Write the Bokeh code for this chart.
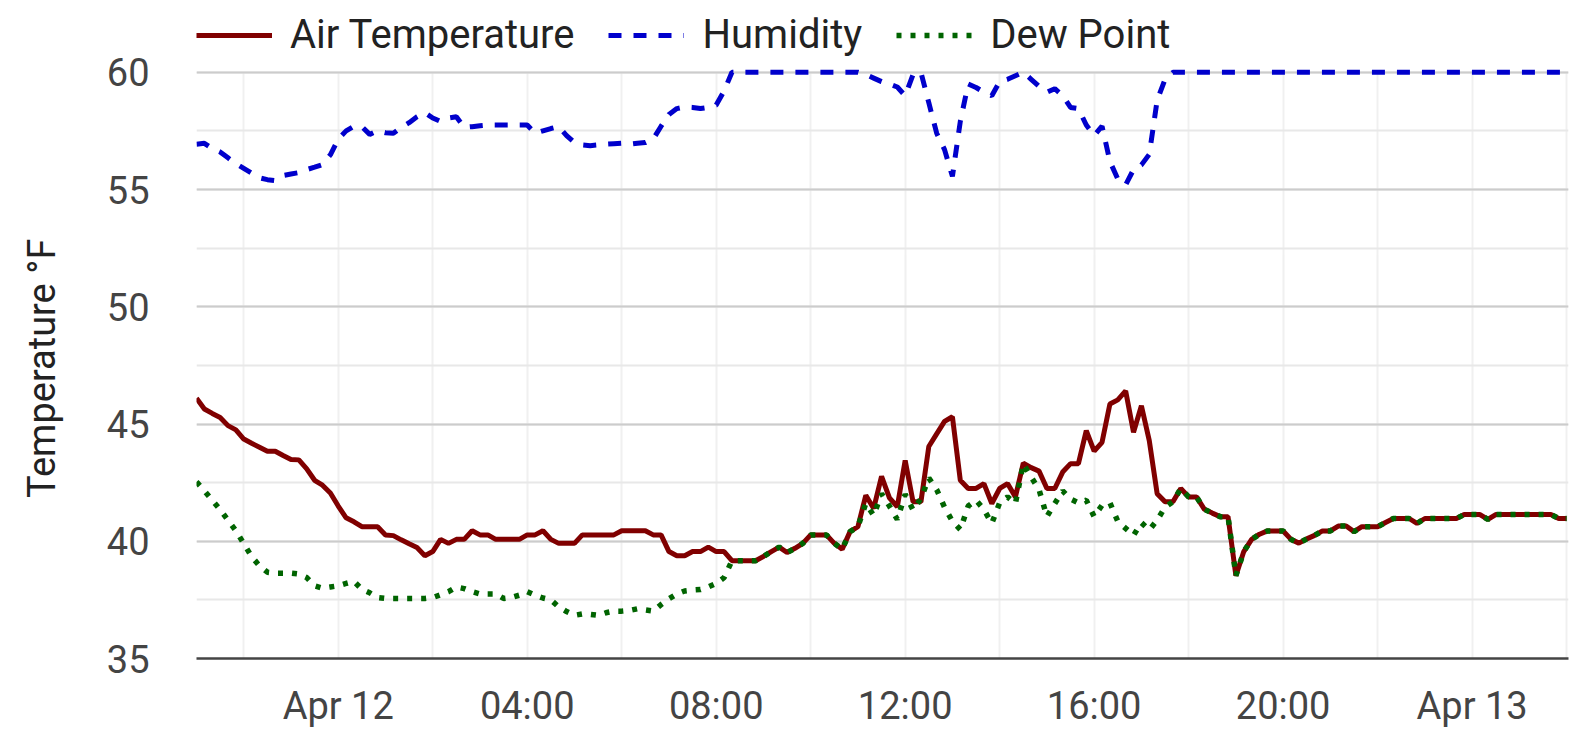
import pandas as pd
from bokeh.plotting import figure
from bokeh.models import (ColumnDataSource, Range1d, FixedTicker, SingleIntervalTicker,
                          Legend, LegendItem, DatetimeTickFormatter)
from bokeh.embed import file_html
from bokeh.resources import INLINE

# ---------------- data (10-minute readings from Apr 11 21:00) ----------------
start_time = "2024-04-11 21:00"
step = "10min"

air_temperature = [
    46.1, 45.64, 45.45, 45.28, 44.93, 44.75, 44.36, 44.18, 44.01, 43.84,
    43.84, 43.66, 43.49, 43.47, 43.09, 42.6, 42.39, 42.06, 41.5, 41.0,
    40.83, 40.62, 40.62, 40.62, 40.27, 40.24, 40.06, 39.89, 39.73, 39.38,
    39.56, 40.08, 39.91, 40.08, 40.08, 40.45, 40.27, 40.27, 40.08, 40.08,
    40.08, 40.08, 40.27, 40.27, 40.45, 40.08, 39.91, 39.91, 39.91, 40.27,
    40.27, 40.27, 40.27, 40.27, 40.45, 40.45, 40.45, 40.45, 40.27, 40.27,
    39.56, 39.38, 39.38, 39.56, 39.56, 39.75, 39.56, 39.56, 39.17, 39.17,
    39.17, 39.17, 39.35, 39.56, 39.75, 39.52, 39.7, 39.91, 40.27, 40.27,
    40.27, 39.91, 39.66, 40.41, 40.62, 41.96, 41.4, 42.77, 41.85, 41.47,
    43.45, 41.68, 41.68, 44.04, 44.58, 45.11, 45.31, 42.6, 42.25, 42.25,
    42.46, 41.61, 42.25, 42.46, 41.89, 43.33, 43.14, 42.99, 42.25, 42.25,
    42.95, 43.31, 43.31, 44.72, 43.84, 44.22, 45.85, 46.03, 46.41, 44.65,
    45.78, 44.29, 42.03, 41.68, 41.68, 42.25, 41.89, 41.89, 41.36, 41.2,
    41.05, 41.05, 38.53, 39.56, 40.08, 40.3, 40.44, 40.44, 40.44, 40.08,
    39.92, 40.1, 40.25, 40.44, 40.44, 40.65, 40.65, 40.41, 40.62, 40.62,
    40.62, 40.8, 40.97, 40.97, 40.97, 40.76, 40.97, 40.97, 40.97, 40.97,
    40.97, 41.14, 41.14, 41.14, 40.93, 41.14, 41.14, 41.14, 41.14, 41.14,
    41.14, 41.14, 41.14, 40.97, 40.97,
]

dew_point = [
    42.53, 42.15, 41.75, 41.35, 40.9, 40.45, 39.9, 39.35, 38.95, 38.68,
    38.64, 38.64, 38.64, 38.6, 38.45, 38.1, 38.0, 38.05, 38.1, 38.2,
    38.29, 37.95, 37.8, 37.6, 37.56, 37.56, 37.56, 37.56, 37.56, 37.56,
    37.6, 37.72, 37.85, 38.05, 37.98, 37.85, 37.75, 37.75, 37.75, 37.56,
    37.6, 37.7, 37.85, 37.7, 37.58, 37.5, 37.2, 37.0, 36.84, 36.9,
    36.88, 36.84, 36.95, 37.02, 37.02, 37.05, 37.12, 37.07, 37.02, 37.3,
    37.55, 37.75, 37.88, 37.92, 37.94, 38.05, 38.2, 38.45, 39.17, 39.17,
    39.17, 39.17, 39.35, 39.56, 39.75, 39.52, 39.7, 39.91, 40.27, 40.27,
    40.27, 39.91, 39.66, 40.41, 40.62, 41.61, 41.1, 42.03, 41.5, 40.93,
    42.0, 41.33, 41.82, 42.7, 42.2, 41.45, 40.85, 40.5, 41.5, 41.75,
    41.35, 40.76, 41.64, 41.89, 41.61, 43.3, 42.74, 42.2, 41.05, 41.61,
    42.15, 41.8, 41.64, 41.75, 41.05, 41.54, 41.64, 40.85, 40.55, 40.25,
    40.79, 40.48, 40.9, 41.45, 41.68, 42.25, 41.89, 41.89, 41.36, 41.2,
    41.05, 41.05, 38.53, 39.56, 40.08, 40.3, 40.44, 40.44, 40.44, 40.08,
    39.92, 40.1, 40.25, 40.44, 40.44, 40.65, 40.65, 40.41, 40.62, 40.62,
    40.62, 40.8, 40.97, 40.97, 40.97, 40.76, 40.97, 40.97, 40.97, 40.97,
    40.97, 41.14, 41.14, 41.14, 40.93, 41.14, 41.14, 41.14, 41.14, 41.14,
    41.14, 41.14, 41.14, 40.97, 40.97,
]

humidity = [
    56.93, 56.97, 56.75, 56.6, 56.35, 56.1, 55.9, 55.7, 55.5, 55.42,
    55.38, 55.6, 55.66, 55.72, 55.85, 55.95, 56.06, 56.48, 57.15, 57.5,
    57.7, 57.68, 57.35, 57.5, 57.42, 57.4, 57.65, 57.85, 58.1, 58.28,
    58.05, 57.9, 58.05, 58.1, 57.65, 57.68, 57.72, 57.75, 57.75, 57.75,
    57.75, 57.75, 57.75, 57.4, 57.5, 57.6, 57.68, 57.3, 57.0, 56.9,
    56.87, 56.9, 56.93, 56.95, 56.97, 56.93, 56.97, 57.0, 57.15, 57.7,
    58.2, 58.45, 58.52, 58.5, 58.45, 58.5, 58.6, 59.2, 60, 60,
    60, 60, 60, 60, 60, 60, 60, 60, 60, 60,
    60, 60, 60, 60, 60, 59.9, 59.75, 59.6, 59.5, 59.37,
    59.0, 59.9, 60, 58.7, 57.4, 56.7, 55.56, 57.9, 59.5, 59.35,
    59.15, 59.0, 59.6, 59.7, 59.85, 60, 59.7, 59.4, 59.15, 59.3,
    59.0, 58.5, 58.45, 57.75, 57.3, 57.7, 56.2, 55.45, 55.2, 55.85,
    56.05, 56.5, 58.8, 59.7, 60, 60, 60, 60, 60, 60,
    60, 60, 60, 60, 60, 60, 60, 60, 60, 60,
    60, 60, 60, 60, 60, 60, 60, 60, 60, 60,
    60, 60, 60, 60, 60, 60, 60, 60, 60, 60,
    60, 60, 60, 60, 60, 60, 60, 60, 60, 60,
    60, 60, 60, 60, 60,
]

tick_times = ["2024-04-12 00:00", "2024-04-12 04:00", "2024-04-12 08:00",
              "2024-04-12 12:00", "2024-04-12 16:00", "2024-04-12 20:00",
              "2024-04-13 00:00"]
tick_labels = ["Apr 12", "04:00", "08:00", "12:00", "16:00", "20:00", "Apr 13"]
minor_tick_times = ["2024-04-11 22:00", "2024-04-12 02:00", "2024-04-12 06:00",
                    "2024-04-12 10:00", "2024-04-12 14:00", "2024-04-12 18:00",
                    "2024-04-12 22:00", "2024-04-13 02:00"]

y_min, y_max = 35, 60
y_label = "Temperature °F"
series_names = ["Air Temperature", "Humidity", "Dew Point"]
series_colors = ["#800000", "#0000cc", "#006400"]

# ---------------- build ----------------
times = pd.date_range(start_time, periods=len(air_temperature), freq=step)
src = ColumnDataSource(dict(t=times, air=air_temperature, hum=humidity, dew=dew_point))


def ms(s):
    return float(pd.Timestamp(s).value // 10**6)


x_start = ms(times[0])
x_end = x_start + 29.04 * 3600 * 1000

FONT = "Roboto"
PX_PER_DEG = 23.45
FRAME_H = 658
y_top = y_min + FRAME_H / PX_PER_DEG   # room above the 60 line for the legend

p = figure(x_axis_type="datetime", width=1572, height=743,
           x_range=Range1d(x_start, x_end), y_range=Range1d(y_min, y_top),
           output_backend="svg", toolbar_location=None,
           min_border_left=196, min_border_right=4, min_border_top=0,
           min_border_bottom=85)
p.outline_line_color = None
p.background_fill_color = "white"

r_air = p.line("t", "air", source=src, color=series_colors[0], line_width=5)
r_hum = p.line("t", "hum", source=src, color=series_colors[1], line_width=5,
               line_dash="13 12")
r_dew = p.line("t", "dew", source=src, color=series_colors[2], line_width=5.5,
               line_dash="5 9")

# x axis
xticker = FixedTicker(ticks=[ms(t) for t in tick_times],
                      minor_ticks=[ms(t) for t in minor_tick_times])
p.xaxis.ticker = xticker
p.xgrid.ticker = xticker
p.xaxis.formatter = DatetimeTickFormatter(hours="%H:%M", days="%b %d",
                                          context=None)
p.xaxis.major_label_overrides = {ms(t): lab for t, lab in zip(tick_times, tick_labels)}
p.xaxis.axis_line_color = "#444444"
p.xaxis.axis_line_width = 2.5
p.xaxis.major_tick_line_color = None
p.xaxis.minor_tick_line_color = None
p.xaxis.major_label_text_font = FONT
p.xaxis.major_label_text_font_size = "38px"
p.xaxis.major_label_text_color = "#444444"
p.xaxis.major_label_standoff = 19

# y axis
yticker = SingleIntervalTicker(interval=5, num_minor_ticks=2)
p.yaxis.ticker = yticker
p.ygrid.ticker = yticker
p.yaxis.bounds = (y_min, y_max)
p.yaxis.axis_line_color = None
p.yaxis.major_tick_line_color = None
p.yaxis.minor_tick_line_color = None
p.yaxis.major_label_text_font = FONT
p.yaxis.major_label_text_font_size = "38px"
p.yaxis.major_label_text_color = "#444444"
p.yaxis.major_label_standoff = 41
# two em spaces at the end centre the visible words on the 35..60 band
p.yaxis.axis_label = y_label + "\u2003\u2003"
p.yaxis.axis_label_text_font = FONT
p.yaxis.axis_label_text_font_size = "38px"
p.yaxis.axis_label_text_font_style = "normal"
p.yaxis.axis_label_text_color = "#222222"
p.yaxis.axis_label_standoff = 40

# grids (kept inside the 35..60 band)
p.xgrid.grid_line_color = "#f0f0f0"
p.xgrid.grid_line_width = 2
p.xgrid.minor_grid_line_color = "#f0f0f0"
p.xgrid.minor_grid_line_width = 2
p.xgrid.cross_bounds = (y_min, y_max)
p.ygrid.grid_line_color = "#cccccc"
p.ygrid.grid_line_width = 2
p.ygrid.minor_grid_line_color = "#e8e8e8"
p.ygrid.minor_grid_line_width = 2
p.ygrid.bounds = (y_min, y_max)

legend = Legend(items=[LegendItem(label=series_names[0], renderers=[r_air]),
                       LegendItem(label=series_names[1], renderers=[r_hum]),
                       LegendItem(label=series_names[2], renderers=[r_dew])],
                orientation="horizontal", location=(0, FRAME_H - 58),
                label_text_font=FONT, label_text_font_size="40px",
                label_text_color="#222222", glyph_width=76, glyph_height=40,
                label_height=40, label_standoff=18, spacing=34, padding=0, margin=0,
                border_line_color=None, background_fill_alpha=0)
p.add_layout(legend, "center")

open("out.html", "w").write(file_html(p, INLINE))
